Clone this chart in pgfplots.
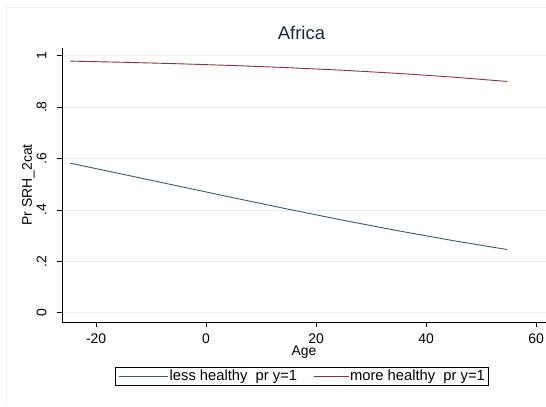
\documentclass[border=0pt]{standalone}
\usepackage{fontspec}
\setmainfont{Liberation Sans}
\usepackage{pgfplots}
\pgfplotsset{compat=1.18}
\definecolor{lessblue}{RGB}{60,90,110}
\definecolor{morered}{RGB}{140,52,62}
\definecolor{gridc}{RGB}{232,238,241}
\definecolor{titlec}{RGB}{30,40,60}
\pgfplotsset{
  legA/.style={legend image code/.code={\draw[##1] (0bp,0bp) -- (49bp,0bp);}},
  legB/.style={legend image code/.code={\draw[##1] (0bp,0bp) -- (35bp,0bp);}},
}
\begin{document}
\begin{tikzpicture}[x=1bp,y=1bp]
\useasboundingbox (-62,-84) rectangle (484,322);
\fill[white] (-62,-84) rectangle (484,322);
\draw[gray!12, line width=0.8bp] (-56,-84) -- (-56,315) -- (484,315);
\begin{axis}[
  at={(0,0)}, anchor=south west,
  scale only axis,
  width=484bp, height=274bp,
  xmin=-26.2, xmax=61.8,
  ymin=-0.036, ymax=1.03,
  axis x line*=bottom, axis y line*=left,
  axis line style={-, black, line width=0.8bp},
  xtick={-20,0,20,40,60},
  ytick={0,0.2,0.4,0.6,0.8,1},
  yticklabels={0,.2,.4,.6,.8,1},
  tick align=outside,
  major tick length=5bp,
  every tick/.style={black, line width=0.6bp},
  ymajorgrids,
  grid style={gridc, line width=0.8bp},
  /pgf/number format/assume math mode=true,
  ticklabel style={font=\fontsize{14}{14}\selectfont},
  xticklabel style={anchor=base, yshift=-16.5bp},
  yticklabel style={xshift=-10.5bp, rotate=90, anchor=base},
  xlabel={Age},
  xlabel style={at={(axis description cs:0.5,0)}, anchor=base, yshift=-33bp, font=\fontsize{14}{14}\selectfont},
  ylabel={Pr SRH\_2cat},
  ylabel style={at={(axis description cs:-0.062,0.5)}, anchor=base, font=\fontsize{14}{14}\selectfont},
  title={Africa},
  title style={at={(axis description cs:0.4948,1)}, anchor=base, yshift=3bp, font=\fontsize{18.5}{18.5}\selectfont, text=titlec},
  legend columns=2,
  legend style={at={(axis description cs:0.4965,0)}, anchor=north, yshift=-44.7bp,
    draw=black, line width=0.8bp, inner xsep=3bp, inner ysep=2bp,
    font=\fontsize{14.8}{14.8}\selectfont,
    nodes={inner sep=1bp},
    /tikz/every even column/.append style={column sep=15bp}},
  clip=false,
]
\addplot[lessblue, line width=0.9bp, legA]
  coordinates {(-24.7,0.5818) (-15,0.5382) (-5,0.4926) (5,0.4472) (15,0.4026) (25,0.3595) (35,0.3186) (45,0.2803) (54.7,0.2460)};
\addlegendentry{less healthy\ \ pr y=1}
\addplot[morered, line width=0.9bp, legB]
  coordinates {(-24.7,0.9790) (-15,0.9744) (-5,0.9687) (5,0.9618) (15,0.9534) (25,0.9433) (35,0.9311) (45,0.9166) (54.7,0.8999)};
\addlegendentry{more healthy\ \ pr y=1}
\end{axis}
\end{tikzpicture}
\end{document}
